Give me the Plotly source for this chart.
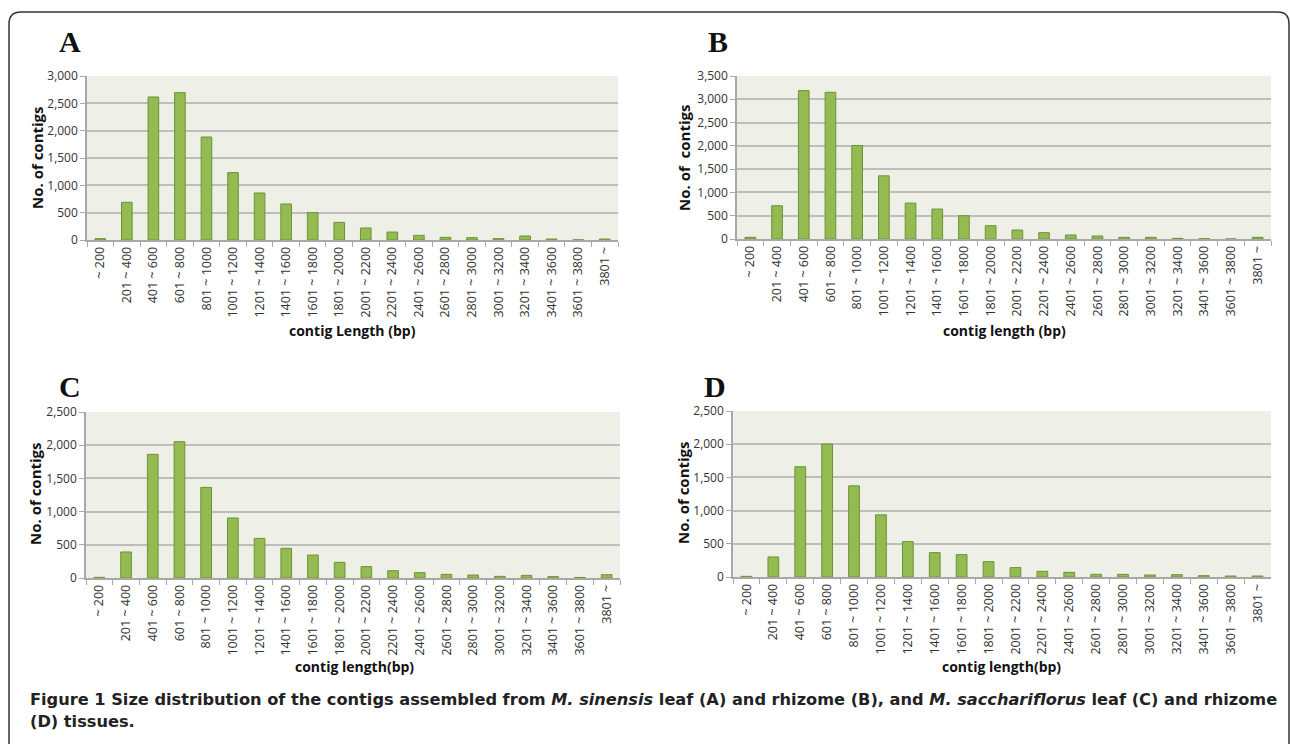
import plotly.graph_objects as go

# ---------------- data ----------------
categories = ["~ 200", "201 ~ 400", "401 ~ 600", "601 ~ 800", "801 ~ 1000",
              "1001 ~ 1200", "1201 ~ 1400", "1401 ~ 1600", "1601 ~ 1800",
              "1801 ~ 2000", "2001 ~ 2200", "2201 ~ 2400", "2401 ~ 2600",
              "2601 ~ 2800", "2801 ~ 3000", "3001 ~ 3200", "3201 ~ 3400",
              "3401 ~ 3600", "3601 ~ 3800", "3801 ~"]

contigs_A = [25, 690, 2616, 2695, 1884, 1232, 860, 659, 500, 323, 220, 146, 85,
             49, 43, 25, 73, 18, 3, 18]
contigs_B = [36, 714, 3186, 3150, 2007, 1357, 771, 643, 500, 286, 193, 136, 86,
             64, 36, 36, 14, 7, 0, 36]
contigs_C = [10, 392, 1862, 2053, 1365, 904, 597, 447, 346, 236, 171, 110, 80,
             55, 45, 25, 40, 20, 8, 50]
contigs_D = [10, 302, 1660, 2002, 1373, 936, 533, 367, 337, 231, 141, 86, 70,
             40, 40, 30, 35, 20, 15, 15]

panel_letters = ["A", "B", "C", "D"]
y_max = [3000, 3500, 2500, 2500]
x_titles = ["contig Length (bp)", "contig length (bp)", "contig length(bp)", "contig length(bp)"]
y_titles = ["No. of contigs", "No. of  contigs", "No. of contigs", "No. of contigs"]
caption_lines = [
    "<b>Figure 1 Size distribution of the contigs assembled from <i>M. sinensis</i> leaf (A) "
    "and rhizome (B), and <i>M. sacchariflorus</i> leaf (C) and rhizome</b>",
    "<b>(D) tissues.</b>",
]

# ---------------- layout helpers (pixels -> paper) ----------------
W, H = 1290, 744
def px(x):
    return x / W
def py(y):
    return 1 - y / H

# plot-area boxes in pixels: (left, right, top, bottom)
boxes = [(87, 618, 76, 240), (737, 1271, 76, 239), (86, 620, 412, 578), (733, 1271, 411, 577)]
letter_pos = [(70, 42), (718, 42), (70, 386), (715, 386)]
ytitle_pos = [(37, 158), (684, 158), (35, 494), (683, 493)]
xtitle_pos = [(353, 331), (1004, 330), (354, 666), (1001, 666)]
caption_pos = [(28, 699), (28, 721)]

SANS = "Open Sans"
bar_fill = "#93BB52"
bar_line = "#6E9236"
grid_col = "#BDBDBD"
axis_col = "#A8A8A8"
bg_col = "#EEF0E7"

fig = go.Figure()
series = [contigs_A, contigs_B, contigs_C, contigs_D]
annotations = []
for i, vals in enumerate(series):
    n = i + 1
    xa = "x" if n == 1 else f"x{n}"
    ya = "y" if n == 1 else f"y{n}"
    fig.add_trace(go.Bar(x=categories, y=vals, xaxis=xa, yaxis=ya,
                         marker=dict(color=bar_fill, line=dict(color=bar_line, width=1)),
                         showlegend=False))
    l, r, t, b = boxes[i]
    xkey = "xaxis" if n == 1 else f"xaxis{n}"
    ykey = "yaxis" if n == 1 else f"yaxis{n}"
    fig.layout[xkey] = dict(domain=[px(l), px(r)], anchor=ya, type="category",
                            tickangle=-90, ticks="outside", tickson="boundaries",
                            ticklen=5, tickcolor=axis_col, tickwidth=1,
                            showline=True, linecolor=axis_col, linewidth=1.5,
                            showgrid=False, automargin=False,
                            tickfont=dict(family=SANS, size=12.5, color="#333333"))
    fig.layout[ykey] = dict(domain=[py(b), py(t)], anchor=xa, range=[0, y_max[i]],
                            dtick=500, tickformat=",d", ticks="outside", ticklen=5,
                            tickcolor=axis_col, tickwidth=1,
                            showline=True, linecolor=axis_col, linewidth=1.5,
                            showgrid=True, gridcolor=grid_col, gridwidth=1.5,
                            zeroline=False, automargin=False,
                            tickfont=dict(family=SANS, size=12, color="#333333"))
    lx, ly = letter_pos[i]
    annotations.append(dict(text=f"<b>{panel_letters[i]}</b>", x=px(lx), y=py(ly),
                            xref="paper", yref="paper", showarrow=False,
                            xanchor="center", yanchor="middle",
                            font=dict(family="Liberation Serif", size=30, color="#111111")))
    tx, ty = ytitle_pos[i]
    annotations.append(dict(text=f"<b>{y_titles[i]}</b>", x=px(tx), y=py(ty),
                            xref="paper", yref="paper", showarrow=False, textangle=-90,
                            xanchor="center", yanchor="middle",
                            font=dict(family=SANS, size=15, color="#111111")))
    gx, gy = xtitle_pos[i]
    annotations.append(dict(text=f"<b>{x_titles[i]}</b>", x=px(gx), y=py(gy),
                            xref="paper", yref="paper", showarrow=False,
                            xanchor="center", yanchor="middle",
                            font=dict(family=SANS, size=14, color="#111111")))

for (cx, cy), line in zip(caption_pos, caption_lines):
    annotations.append(dict(text=line, x=px(cx), y=py(cy), xref="paper", yref="paper",
                            showarrow=False, xanchor="left", yanchor="middle", align="left",
                            font=dict(family="DejaVu Sans", size=16.2, color="#222222")))

# rounded frame (open at the bottom)
frame = (f"M {px(9)},{py(744)} L {px(9)},{py(24)} Q {px(9)},{py(12)} {px(21)},{py(12)} "
         f"L {px(1278)},{py(12)} Q {px(1289)},{py(12)} {px(1289)},{py(24)} L {px(1289)},{py(744)}")

fig.update_layout(width=W, height=H, margin=dict(l=0, r=0, t=0, b=0),
                  paper_bgcolor="white", plot_bgcolor=bg_col, bargap=0.6,
                  annotations=annotations,
                  shapes=[dict(type="path", path=frame, xref="paper", yref="paper",
                               line=dict(color="#333333", width=1.5))])

fig.write_html("out.html", config={"displayModeBar": False},
               post_script="document.body.style.margin='0';document.body.style.overflow='hidden';")
